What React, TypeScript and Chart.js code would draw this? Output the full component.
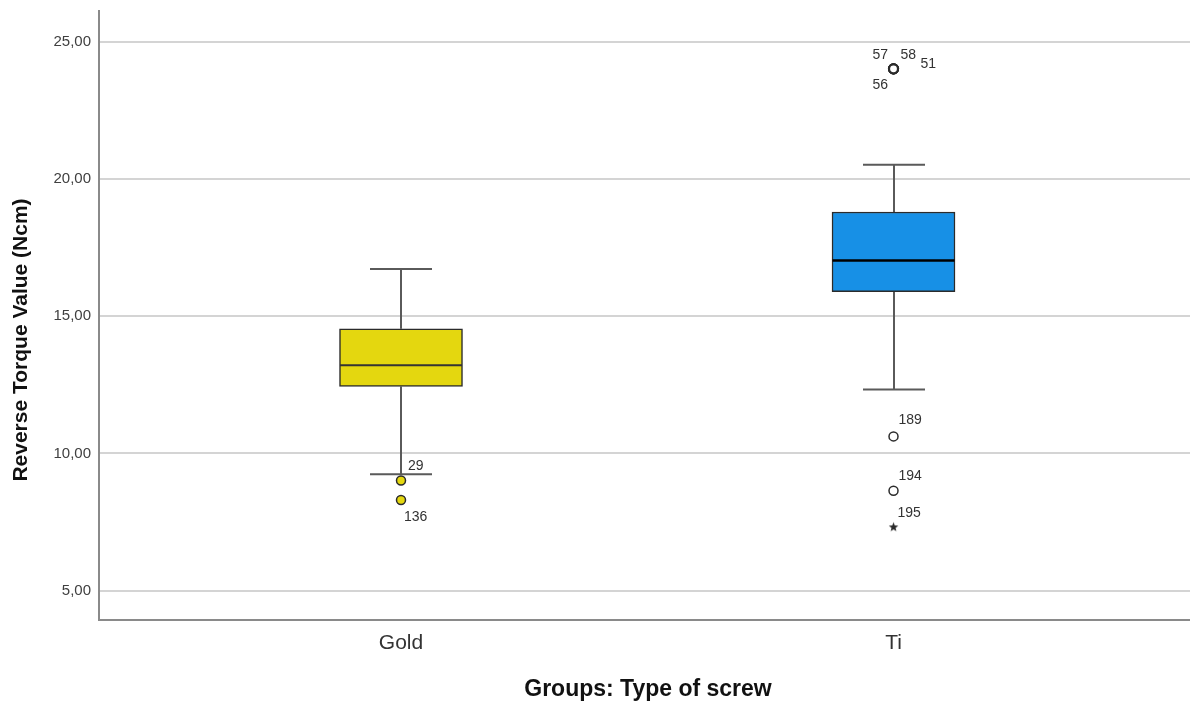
import React, { useEffect, useRef } from 'react';
import { Chart, registerables } from 'chart.js';

Chart.register(...registerables);

// ---- data ----
const categories = ['Gold', 'Ti'];
const categoryPositions = [1, 2];
const whiskerLow = [9.24, 12.33];
const q1 = [12.44, 15.9];
const median = [13.21, 17.03];
const q3 = [14.54, 18.8];
const whiskerHigh = [16.72, 20.52];
const yTicks = [5, 10, 15, 20, 25];

const goldOutlierValues = [9.01, 8.3];
const goldOutlierIds = ['29', '136'];
const tiOutlierValues = [24.02, 24.02, 24.02, 24.02, 10.62, 8.64];
const tiOutlierIds = ['57', '58', '51', '56', '189', '194'];
const tiExtremeValues = [7.32];
const tiExtremeIds = ['195'];

const yTitle = 'Reverse Torque Value (Ncm)';
const xTitle = 'Groups: Type of screw';

// ---- styles / label placement (pixels, relative to point) ----
const labelOffsets: Record<string, [number, number]> = {
  '29': [7, -14],
  '136': [3, 17],
  '57': [-21, -14],
  '58': [7, -14],
  '51': [27, -5],
  '56': [-21, 16],
  '189': [5, -16],
  '194': [5, -15],
  '195': [4, -14],
};
const FONT = "'Liberation Sans', Arial, sans-serif";
const GOLD = '#e4d70f';
const BLUE = '#1790e6';

function makeStar(): HTMLCanvasElement {
  const c = document.createElement('canvas');
  c.width = 11;
  c.height = 11;
  const g = c.getContext('2d')!;
  g.fillStyle = '#2b2b2b';
  g.beginPath();
  const cx = 5.5;
  const cy = 5.8;
  for (let k = 0; k < 10; k++) {
    const r = k % 2 === 0 ? 5 : 2.1;
    const a = -Math.PI / 2 + (k * Math.PI) / 5;
    const px = cx + r * Math.cos(a);
    const py = cy + r * Math.sin(a);
    if (k === 0) g.moveTo(px, py);
    else g.lineTo(px, py);
  }
  g.closePath();
  g.fill();
  return c;
}

const boxPlugin = {
  id: 'boxParts',
  beforeDatasetsDraw(chart: any) {
    const { ctx, scales } = chart;
    const x = scales.x;
    const y = scales.y;
    ctx.save();
    ctx.strokeStyle = '#5a5a5a';
    ctx.lineWidth = 2;
    categoryPositions.forEach((c, i) => {
      const cx = Math.round(x.getPixelForValue(c));
      const capHalf = 31;
      const yl = y.getPixelForValue(whiskerLow[i]);
      const yh = y.getPixelForValue(whiskerHigh[i]);
      const yq1 = y.getPixelForValue(q1[i]);
      const yq3 = y.getPixelForValue(q3[i]);
      ctx.beginPath();
      ctx.moveTo(cx, yl);
      ctx.lineTo(cx, yq1);
      ctx.moveTo(cx, yq3);
      ctx.lineTo(cx, yh);
      ctx.moveTo(cx - capHalf, yl);
      ctx.lineTo(cx + capHalf, yl);
      ctx.moveTo(cx - capHalf, yh);
      ctx.lineTo(cx + capHalf, yh);
      ctx.stroke();
    });
    ctx.restore();
  },
  afterDatasetsDraw(chart: any) {
    const { ctx, scales } = chart;
    const x = scales.x;
    const y = scales.y;
    ctx.save();
    categoryPositions.forEach((c, i) => {
      const cx = x.getPixelForValue(c);
      const half = 61;
      const ym = y.getPixelForValue(median[i]);
      ctx.strokeStyle = i === 0 ? '#333' : '#000';
      ctx.lineWidth = i === 0 ? 2 : 2.5;
      ctx.beginPath();
      ctx.moveTo(cx - half, ym);
      ctx.lineTo(cx + half, ym);
      ctx.stroke();
    });
    // outlier labels
    ctx.fillStyle = '#333';
    ctx.font = `14px ${FONT}`;
    ctx.textAlign = 'left';
    ctx.textBaseline = 'middle';
    const groups: [number, number[], string[]][] = [
      [categoryPositions[0], goldOutlierValues, goldOutlierIds],
      [categoryPositions[1], tiOutlierValues, tiOutlierIds],
      [categoryPositions[1], tiExtremeValues, tiExtremeIds],
    ];
    groups.forEach(([c, vals, ids]) => {
      vals.forEach((v, k) => {
        const px = x.getPixelForValue(c);
        const py = y.getPixelForValue(v);
        const off = labelOffsets[ids[k]] || [6, -14];
        ctx.fillText(ids[k], px + off[0], py + off[1]);
      });
    });
    ctx.restore();
  },
  afterDraw(chart: any) {
    const { ctx } = chart;
    ctx.save();
    ctx.fillStyle = '#111';
    ctx.textAlign = 'center';
    ctx.textBaseline = 'middle';
    ctx.font = `bold 21px ${FONT}`;
    ctx.translate(21, 340);
    ctx.rotate(-Math.PI / 2);
    ctx.fillText(yTitle, 0, 0);
    ctx.restore();
    ctx.save();
    ctx.fillStyle = '#111';
    ctx.textAlign = 'center';
    ctx.textBaseline = 'middle';
    ctx.font = `bold 23px ${FONT}`;
    ctx.fillText(xTitle, 648, 690);
    ctx.restore();
  },
};

export default function App() {
  const canvasRef = useRef<HTMLCanvasElement | null>(null);

  useEffect(() => {
    const canvas = canvasRef.current;
    if (!canvas) return;
    const star = makeStar();
    const chart = new Chart(canvas, {
      type: 'bar',
      data: {
        datasets: [
          {
            type: 'bar',
            data: categoryPositions.map((c, i) => ({ x: c, y: [q1[i], q3[i]] })) as any,
            backgroundColor: [GOLD, BLUE],
            borderColor: '#2b2b2b',
            borderWidth: 1.5,
            borderSkipped: false,
            barThickness: 123,
            order: 2,
          } as any,
          {
            type: 'scatter',
            data: goldOutlierValues.map((v) => ({ x: categoryPositions[0], y: v })),
            backgroundColor: GOLD,
            borderColor: '#2b2b2b',
            borderWidth: 1.5,
            pointRadius: 4.5,
            order: 1,
          } as any,
          {
            type: 'scatter',
            data: tiOutlierValues.map((v) => ({ x: categoryPositions[1], y: v })),
            backgroundColor: '#ffffff',
            borderColor: '#2b2b2b',
            borderWidth: tiOutlierValues.map((v) => (v > 20 ? 2.2 : 1.5)),
            pointRadius: 4.5,
            order: 1,
          } as any,
          {
            type: 'scatter',
            data: tiExtremeValues.map((v) => ({ x: categoryPositions[1], y: v })),
            pointStyle: star,
            pointRadius: 5,
            order: 1,
          } as any,
        ],
      },
      options: {
        animation: false,
        responsive: false,
        devicePixelRatio: 1,
        layout: { autoPadding: false, padding: { top: 11, right: 0, left: 0, bottom: 0 } },
        plugins: {
          legend: { display: false },
          tooltip: { enabled: false },
        },
        scales: {
          x: {
            type: 'linear',
            offset: false,
            min: 0.3868,
            max: 2.602,
            bounds: 'ticks',
            grid: { display: false, drawTicks: false, offset: false },
            border: { display: true, color: '#8a8a8a', width: 2 },
            afterDataLimits: (scale: any) => {
              scale.min = 0.3868;
              scale.max = 2.602;
            },
            afterBuildTicks: (scale: any) => {
              scale.ticks = categoryPositions.map((v) => ({ value: v }));
            },
            afterFit: (scale: any) => {
              scale.height = 82;
              scale.paddingLeft = 0;
              scale.paddingRight = 0;
            },
            ticks: {
              padding: 11,
              color: '#333',
              font: { size: 21, family: FONT },
              callback: (v: any) => {
                const idx = categoryPositions.indexOf(Number(v));
                return idx >= 0 ? categories[idx] : '';
              },
            },
          },
          y: {
            type: 'linear',
            min: 3.925,
            max: 26.13,
            grid: { display: true, color: '#d4d4d4', lineWidth: 2, drawTicks: false },
            border: { display: true, color: '#8a8a8a', width: 2 },
            afterBuildTicks: (scale: any) => {
              scale.ticks = yTicks.map((v) => ({ value: v }));
            },
            afterFit: (scale: any) => {
              scale.width = 99;
              scale.paddingTop = 0;
              scale.paddingBottom = 0;
            },
            ticks: {
              padding: 8,
              color: '#404040',
              font: { size: 15, family: FONT },
              callback: (v: any) => Number(v).toFixed(2).replace('.', ','),
            },
          },
        },
      },
      plugins: [boxPlugin],
    });
    return () => chart.destroy();
  }, []);

  return (
    <div style={{ position: 'absolute', left: 0, top: 0, width: 1190, height: 702, background: '#fff', overflow: 'hidden' }}>
      <canvas ref={canvasRef} width={1190} height={702} style={{ display: 'block' }} />
    </div>
  );
}
